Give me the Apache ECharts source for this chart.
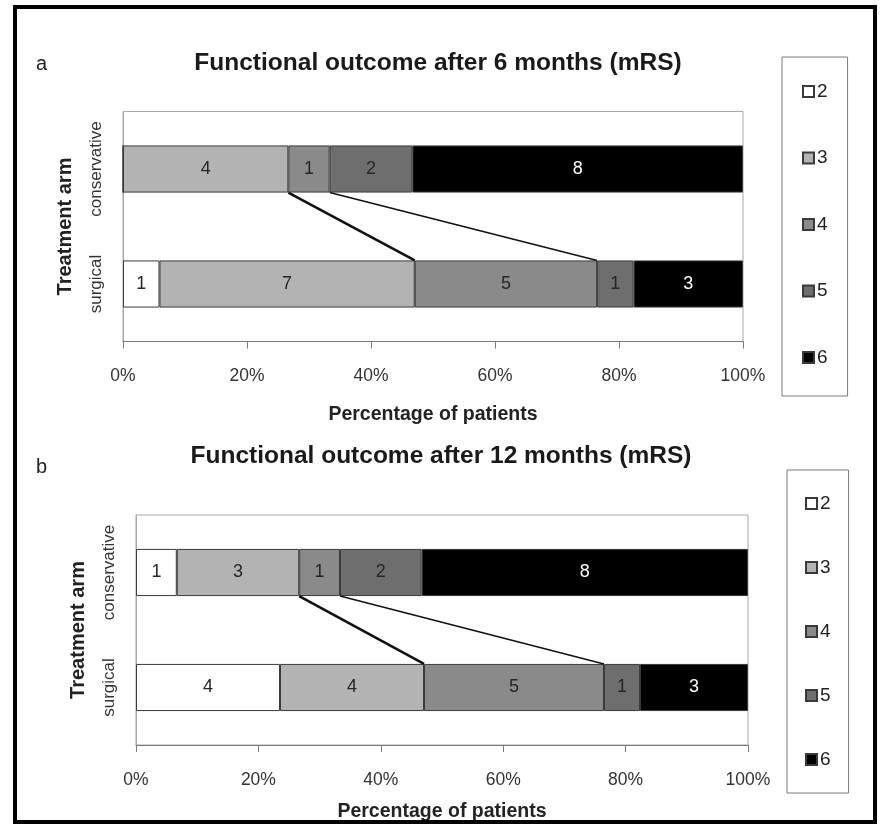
<!DOCTYPE html>
<html>
<head>
<meta charset="utf-8">
<script src="https://cdn.jsdelivr.net/npm/echarts@6/dist/echarts.min.js"></script>
<style>
html,body{margin:0;padding:0;background:#fff;}
#chart{width:887px;height:825px;}
</style>
</head>
<body>
<div id="chart"></div>
<script>
// ---- data ----
const categories = ['surgical', 'conservative'];           // bottom to top
const mrsLevels = ['2', '3', '4', '5', '6'];
const levelColors = ['#ffffff', '#b3b3b3', '#8a8a8a', '#6e6e6e', '#000000'];
// panel a: 6 months (patient counts per mRS level)
const sixMonthConservative = [0, 4, 1, 2, 8];
const sixMonthSurgical     = [1, 7, 5, 1, 3];
// panel b: 12 months
const twelveMonthConservative = [1, 3, 1, 2, 8];
const twelveMonthSurgical     = [4, 4, 5, 1, 3];
const xTickValues = [0, 20, 40, 60, 80, 100];
const titles = ['Functional outcome after 6 months (mRS)', 'Functional outcome after 12 months (mRS)'];
const panelLetters = ['a', 'b'];
// connector lines join the boundary after level index 1 (mRS 3) and index 2 (mRS 4)
const connectorLevels = [1, 2];
const connectorWidths = [2.6, 1.6];

const FONT = 'Liberation Sans, Arial, sans-serif';
const BAR_RATIO = 0.41;

function pct(arr) {
  const t = arr.reduce((s, v) => s + v, 0);
  return arr.map(v => v / t * 100);
}
function cumPct(arr, idx) {
  const t = arr.reduce((s, v) => s + v, 0);
  let c = 0;
  for (let i = 0; i <= idx; i++) c += arr[i];
  return c / t * 100;
}

const panels = [
  { cons: sixMonthConservative, surg: sixMonthSurgical, nameGap: 63,
    grid: { left: 123, right: 144, top: 111.5, height: 230 } },
  { cons: twelveMonthConservative, surg: twelveMonthSurgical, nameGap: 57,
    grid: { left: 136, right: 139, top: 515, height: 230 } }
];

const grids = [], xAxes = [], yAxes = [], series = [];
panels.forEach((p, gi) => {
  grids.push(Object.assign({ show: true, borderColor: '#a8a8a8', borderWidth: 1, backgroundColor: 'transparent' }, p.grid));
  xAxes.push({
    type: 'value', gridIndex: gi, min: xTickValues[0], max: xTickValues[xTickValues.length - 1],
    interval: xTickValues[1] - xTickValues[0],
    axisLine: { show: true, lineStyle: { color: '#7a7a7a', width: 1 } },
    axisTick: { show: true, length: 7, lineStyle: { color: '#7a7a7a' } },
    splitLine: { show: false },
    axisLabel: { margin: 26, fontSize: 17.5, color: '#333', fontFamily: FONT, formatter: '{value}%' },
    name: 'Percentage of patients', nameLocation: 'middle', nameGap: p.nameGap,
    nameTextStyle: { fontSize: 19.5, fontWeight: 'bold', color: '#222', fontFamily: FONT }
  });
  yAxes.push({
    type: 'category', gridIndex: gi, data: categories,
    axisLine: { show: true, lineStyle: { color: '#a8a8a8' } },
    axisTick: { show: false },
    axisLabel: { interval: 0, rotate: 90, margin: 18, fontSize: 17, color: '#333', fontFamily: FONT },
    name: 'Treatment arm', nameLocation: 'middle', nameRotate: 90, nameGap: 48,
    nameTextStyle: { fontSize: 20, fontWeight: 'bold', color: '#222', fontFamily: FONT }
  });
  const consP = pct(p.cons), surgP = pct(p.surg);
  mrsLevels.forEach((lvl, li) => {
    series.push({
      type: 'bar', name: lvl, xAxisIndex: gi, yAxisIndex: gi, stack: 'p' + gi,
      barWidth: (BAR_RATIO * 100) + '%',
      itemStyle: { color: levelColors[li], borderColor: '#3a3a3a', borderWidth: 1 },
      label: {
        show: true, position: 'inside', fontSize: 18, fontFamily: FONT,
        color: li === 4 ? '#ffffff' : '#262626',
        formatter: (params) => params.data.count > 0 ? String(params.data.count) : ''
      },
      emphasis: { disabled: true },
      data: [
        { value: surgP[li], count: p.surg[li] },
        { value: consP[li], count: p.cons[li] }
      ]
    });
  });
  // connector lines between bars, positioned through the axes
  series.push({
    type: 'custom', xAxisIndex: gi, yAxisIndex: gi, silent: true, z: 5,
    encode: { x: [0, 1], y: 2 },
    data: connectorLevels.map((lv, k) => [cumPct(p.cons, lv), cumPct(p.surg, lv), 1, connectorWidths[k]]),
    renderItem: function (params, api) {
      const band = api.size([0, 1])[1];
      const half = band * BAR_RATIO / 2;
      const top = api.coord([api.value(0), 1]);
      const bot = api.coord([api.value(1), 0]);
      return {
        type: 'line',
        shape: { x1: top[0], y1: top[1] + half, x2: bot[0], y2: bot[1] - half },
        style: { stroke: '#111', lineWidth: api.value(3) }
      };
    }
  });
});

const legendBase = {
  orient: 'vertical', icon: 'rect', itemWidth: 11, itemHeight: 11, itemGap: 48,
  borderColor: '#7a7a7a', borderWidth: 1, backgroundColor: '#fff',
  selectedMode: false,
  textStyle: { fontSize: 19, color: '#222', fontFamily: FONT, lineHeight: 19, padding: [0, 0, 0, -2] },
  data: mrsLevels
};

const option = {
  animation: false,
  backgroundColor: '#fff',
  title: [0, 1].map(i => ({
    text: titles[i], left: i === 0 ? 433 : 436, top: i === 0 ? 46 : 439, textAlign: 'center',
    textStyle: { fontSize: 24.5, fontWeight: 'bold', color: '#1a1a1a', fontFamily: FONT }
  })),
  legend: [
    Object.assign({}, legendBase, { left: 782, top: 57, padding: [25, 20, 29, 20], itemGap: 47.5 }),
    Object.assign({}, legendBase, { left: 787, top: 470, padding: [24, 18, 24, 18], itemGap: 45 })
  ],
  grid: grids,
  xAxis: xAxes,
  yAxis: yAxes,
  series: series,
  graphic: [
    { type: 'rect', shape: { x: 15, y: 7, width: 860, height: 815 }, style: { fill: 'none', stroke: '#000', lineWidth: 4 }, z: 100 },
    { type: 'text', left: 36, top: 54, style: { text: panelLetters[0], fontSize: 20, fill: '#222', fontFamily: FONT } },
    { type: 'text', left: 36, top: 457, style: { text: panelLetters[1], fontSize: 20, fill: '#222', fontFamily: FONT } }
  ]
};

const chart = echarts.init(document.getElementById('chart'), null, { renderer: 'canvas' });
chart.setOption(option);
</script>
</body>
</html>
